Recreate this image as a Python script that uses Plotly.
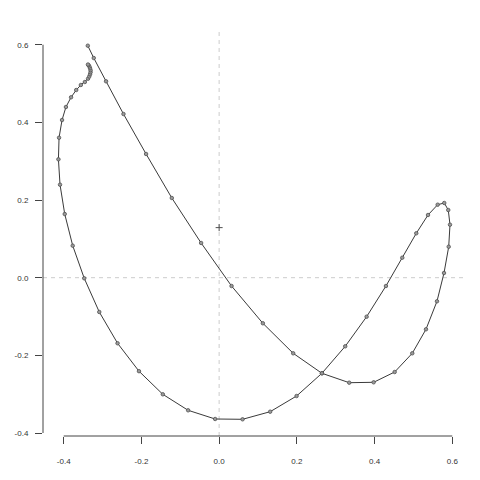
import plotly.graph_objects as go

# Trajectory points
x_vals = [-0.338, -0.3227, -0.291, -0.2462, -0.188, -0.1218, -0.0464, 0.0319, 0.1125, 0.1906,
          0.2645, 0.3348, 0.3976, 0.4517, 0.497, 0.5323, 0.5606, 0.5787, 0.5908, 0.5941,
          0.5897, 0.5794, 0.5624, 0.5375, 0.5073, 0.4713, 0.4293, 0.3796, 0.3245, 0.2645,
          0.1993, 0.1313, 0.0603, -0.0103, -0.0798, -0.145, -0.2063, -0.2614, -0.3085, -0.3472,
          -0.3768, -0.3974, -0.4095, -0.4136, -0.412, -0.4043, -0.3943, -0.3811, -0.3678, -0.3559,
          -0.3456, -0.3374, -0.3343, -0.3322, -0.3309, -0.3309, -0.3322, -0.334, -0.336, -0.3376]
y_vals = [0.5975, 0.5658, 0.5058, 0.4216, 0.3186, 0.2053, 0.0894, -0.0214, -0.1174, -0.1947,
          -0.2462, -0.2704, -0.2694, -0.2429, -0.1947, -0.1329, -0.0608, 0.0121, 0.0798, 0.1365,
          0.1743, 0.1924, 0.188, 0.1615, 0.1143, 0.0515, -0.0214, -0.1004, -0.1767, -0.2462,
          -0.3047, -0.3451, -0.3647, -0.3639, -0.3415, -0.3003, -0.2408, -0.1689, -0.0883, -0.0015,
          0.0824, 0.164, 0.2395, 0.3049, 0.3605, 0.4061, 0.4396, 0.4646, 0.4834, 0.4963,
          0.504, 0.5125, 0.5182, 0.5238, 0.529, 0.5344, 0.5395, 0.5439, 0.5473, 0.549]

centre_x = [0.0]
centre_y = [0.129]

x_ticks = [-0.4, -0.2, 0.0, 0.2, 0.4, 0.6]
x_tick_labels = ["-0.4", "-0.2", "0.0", "0.2", "0.4", "0.6"]
y_ticks = [-0.4, -0.2, 0.0, 0.2, 0.4, 0.6]
y_tick_labels = ["-0.4", "-0.2", "0.0", "0.2", "0.4", "0.6"]

fig = go.Figure()
fig.add_trace(go.Scatter(
    x=x_vals, y=y_vals, mode="lines+markers",
    line=dict(color="#3a3a3a", width=1),
    marker=dict(size=3.5, color="#9a9a9a", line=dict(color="#505050", width=0.8)),
    showlegend=False, hoverinfo="skip"))
fig.add_trace(go.Scatter(
    x=centre_x, y=centre_y, mode="markers",
    marker=dict(symbol="cross-thin", size=5, line=dict(color="#505050", width=1)),
    showlegend=False, hoverinfo="skip"))

dash = "4px,4px"
shapes = [
    dict(type="line", xref="x", yref="y domain", x0=0, x1=0, y0=0, y1=1,
         line=dict(color="#cccccc", width=1, dash=dash), layer="below"),
    dict(type="line", xref="x domain", yref="y", x0=0, x1=1, y0=0, y1=0,
         line=dict(color="#cccccc", width=1, dash=dash), layer="below"),
    dict(type="line", xref="x domain", yref="y", x0=0, x1=0, y0=y_ticks[0], y1=y_ticks[-1],
         line=dict(color="#444444", width=1)),
    dict(type="line", xref="x", yref="y domain", x0=x_ticks[0], x1=x_ticks[-1], y0=0, y1=0,
         line=dict(color="#444444", width=1)),
]

font = dict(family="Liberation Sans, Arial, sans-serif", size=8, color="#333333")
fig.update_layout(
    width=480, height=480,
    margin=dict(l=35, r=22, t=21, b=52, autoexpand=False),
    paper_bgcolor="white", plot_bgcolor="white",
    shapes=shapes, font=font,
    xaxis=dict(range=[-0.4533, 0.6353], showgrid=False, zeroline=False, showline=False,
               automargin=False,
               tickmode="array", tickvals=x_ticks, ticktext=x_tick_labels,
               ticks="outside", ticklen=7, tickcolor="#444444", tickwidth=1,
               ticklabelstandoff=10, tickfont=font),
    yaxis=dict(range=[-0.4077, 0.6405], showgrid=False, zeroline=False, showline=False,
               automargin=False,
               tickmode="array", tickvals=y_ticks, ticktext=y_tick_labels,
               ticks="outside", ticklen=7, tickcolor="#444444", tickwidth=1,
               ticklabelstandoff=5, tickfont=font),
)
fig.write_html("out.html")
